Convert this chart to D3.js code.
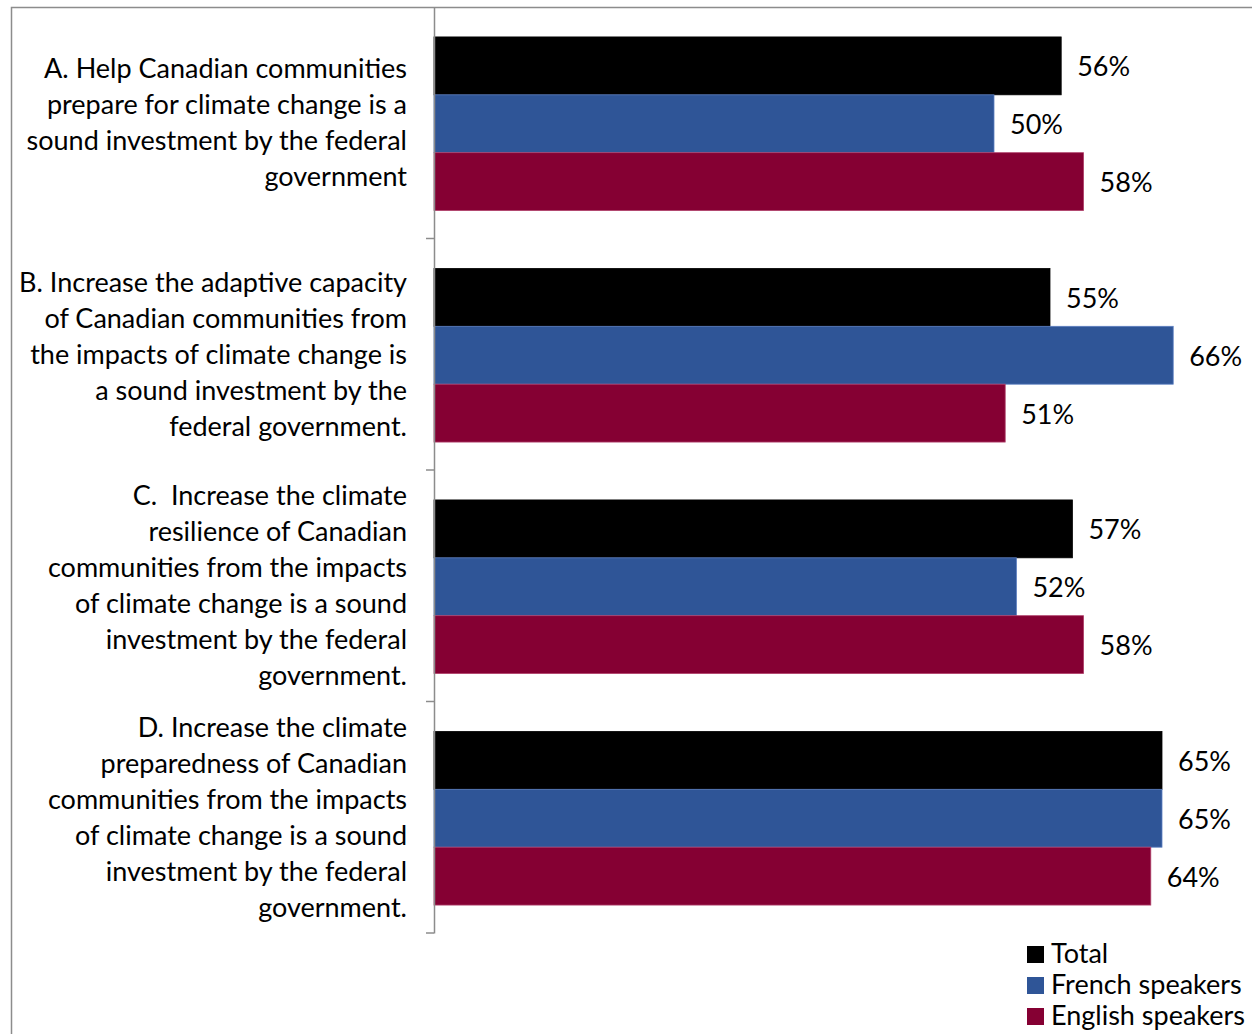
<!DOCTYPE html>
<html><head><meta charset="utf-8">
<script src="https://cdn.jsdelivr.net/npm/d3@7"></script>
<style>
html,body{margin:0;padding:0;background:#fff;overflow:hidden;}
svg{display:block;}
text{font-family:Lato, "Open Sans", sans-serif;fill:#000;}
</style></head>
<body>
<svg id="chart" width="1252" height="1034"></svg>
<script>
const categories = ["A", "B", "C", "D"];
const categoryLabels = [
  ["A. Help Canadian communities", "prepare for climate change is a", "sound investment by the federal", "government"],
  ["B. Increase the adaptive capacity", "of Canadian communities from", "the impacts of climate change is", "a sound investment by the", "federal government."],
  ["C.\u00a0 Increase the climate", "resilience of Canadian", "communities from the impacts", "of climate change is a sound", "investment by the federal", "government."],
  ["D. Increase the climate", "preparedness of Canadian", "communities from the impacts", "of climate change is a sound", "investment by the federal", "government."]
];
const seriesNames = ["Total", "French speakers", "English speakers"];
const totalValues = [56, 55, 57, 65];
const frenchValues = [50, 66, 52, 65];
const englishValues = [58, 51, 58, 64];
const seriesColors = ["#000000", "#2F5597", "#850033"];
const seriesStroke = ["#000000", "#5B7EC0", "#B0406A"];

const series = [totalValues, frenchValues, englishValues];

const svg = d3.select("#chart");
const axisX = 434, plotTop = 7, plotBottom = 933;
const FS = 27;

// outer chart border
svg.append("rect").attr("x", 11.5).attr("y", 7.5).attr("width", 1300).attr("height", 1100)
  .attr("fill", "none").attr("stroke", "#8c8c8c").attr("stroke-width", 1.5);

const x = d3.scaleLinear().domain([0, 100]).range([axisX, axisX + 1120]);
const y0 = d3.scaleBand().domain(categories).range([plotTop, plotBottom]).paddingInner(0).paddingOuter(0);
const y1 = d3.scaleBand().domain(seriesNames).range([0, y0.bandwidth()]).paddingInner(0).paddingOuter(0.5);

const groups = svg.append("g").selectAll("g").data(categories).join("g")
  .attr("transform", d => `translate(0,${y0(d)})`);

groups.each(function(cat, ci) {
  const g = d3.select(this);
  seriesNames.forEach((s, si) => {
    const v = series[si][ci];
    g.append("rect")
      .attr("x", x(0)).attr("y", y1(s) + 1)
      .attr("width", x(v) - x(0)).attr("height", y1.bandwidth())
      .attr("fill", seriesColors[si])
      .attr("stroke", seriesStroke[si]).attr("stroke-width", 0.8);
    g.append("text")
      .attr("x", x(v) + 16).attr("y", y1(s) + y1.bandwidth() / 2 + 2)
      .attr("dy", "0.35em").attr("font-size", FS)
      .text(v + "%");
  });
  const lines = categoryLabels[ci];
  const lh = 36;
  const cy = y0.bandwidth() / 2;
  const t = g.append("text").attr("text-anchor", "end").attr("font-size", FS);
  lines.forEach((ln, li) => {
    t.append("tspan").attr("x", 407)
      .attr("y", cy + (li - (lines.length - 1) / 2) * lh)
      .attr("dy", "0.35em").text(ln);
  });
});

// axis
const axis = d3.axisLeft(y0).tickSize(8).tickFormat("").tickSizeOuter(0);
const ag = svg.append("g").attr("transform", `translate(${axisX},0)`).call(axis);
ag.selectAll(".tick").attr("transform", (d) => `translate(0,${y0(d) + y0.bandwidth()})`);
ag.select(".domain").attr("stroke", "#8c8c8c").attr("stroke-width", 1.5);
ag.selectAll(".tick line").attr("stroke", "#8c8c8c").attr("stroke-width", 1.5);

// legend
const lg = svg.append("g");
seriesNames.forEach((s, i) => {
  const yy = 954 + i * 31;
  lg.append("rect").attr("x", 1027).attr("y", yy - 8).attr("width", 17).attr("height", 17)
    .attr("fill", seriesColors[i]);
  lg.append("text").attr("x", 1051).attr("y", yy).attr("dy", "0.35em")
    .attr("font-size", FS).text(s);
});
</script>
</body></html>
